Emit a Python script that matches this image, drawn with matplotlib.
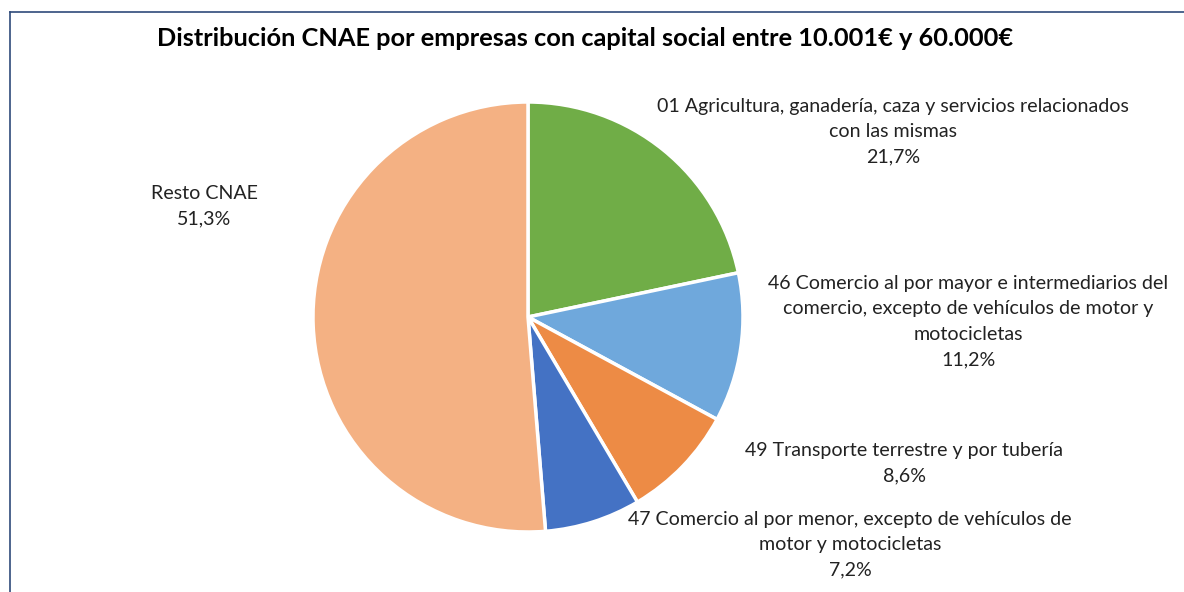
import matplotlib
matplotlib.use("Agg")
import matplotlib.pyplot as plt

plt.rcParams['font.family'] = ['Lato', 'DejaVu Sans']

categories = [
    "01 Agricultura, ganadería, caza y servicios relacionados\ncon las mismas",
    "46 Comercio al por mayor e intermediarios del\ncomercio, excepto de vehículos de motor y\nmotocicletas",
    "49 Transporte terrestre y por tubería",
    "47 Comercio al por menor, excepto de vehículos de\nmotor y motocicletas",
    "Resto CNAE",
]
values = [21.7, 11.2, 8.6, 7.2, 51.3]
pct_labels = ["21,7%", "11,2%", "8,6%", "7,2%", "51,3%"]
colors = ["#70AD47", "#6FA8DC", "#ED8B45", "#4472C4", "#F4B183"]
title = "Distribución CNAE por empresas con capital social entre 10.001€ y 60.000€"

W, H = 1184, 592
fig = plt.figure(figsize=(W / 100, H / 100), dpi=100)
fig.patch.set_facecolor("white")

# frame lines (top and left)
fig.add_artist(plt.Line2D([10 / W, 1.0], [1 - 12 / H, 1 - 12 / H], color="#2F4A7A", lw=1.2))
fig.add_artist(plt.Line2D([10 / W, 10 / W], [0, 1 - 12 / H], color="#2F4A7A", lw=1.2))

cx, cy, r = 528, 317, 215
ax = fig.add_axes([(cx - r) / W, (H - cy - r) / H, 2 * r / W, 2 * r / H])
ax.pie(values, colors=colors, startangle=90, counterclock=False,
       wedgeprops=dict(edgecolor="white", linewidth=2.5), radius=1.0)
ax.set_xlim(-1, 1)
ax.set_ylim(-1, 1)
ax.set_aspect("equal")
ax.axis("off")

fig.text(585 / W, 1 - 38 / H, title, ha="center", va="center",
         fontsize=18.3, fontweight="bold", color="black")

# label positions (center x, top line y) in pixels
label_pos = [(893, 106), (968, 283), (904, 450), (850, 519), (204, 193)]
for cat, pct, (lx, ly) in zip(categories, pct_labels, label_pos):
    txt = cat + "\n" + pct
    fig.text(lx / W, 1 - (ly - 8) / H, txt, ha="center", va="top",
             fontsize=14.1, color="#222222", linespacing=1.6, multialignment="center")

fig.savefig("out.png", dpi=100, facecolor="white")
